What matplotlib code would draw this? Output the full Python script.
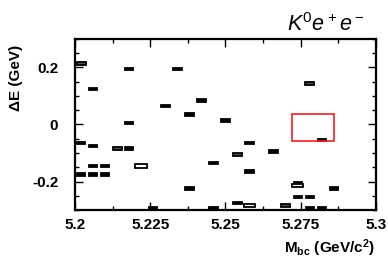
import numpy as np
import matplotlib
matplotlib.use("Agg")
import matplotlib.pyplot as plt
from matplotlib.patches import Rectangle
from matplotlib.ticker import MultipleLocator

plt.rcParams['font.family'] = ['Liberation Sans', 'DejaVu Sans']
plt.rcParams['mathtext.fontset'] = 'custom'
plt.rcParams['mathtext.rm'] = 'Liberation Sans'
plt.rcParams['mathtext.it'] = 'Liberation Sans:italic'
plt.rcParams['mathtext.bf'] = 'Liberation Sans:bold'

# candidate events: Mbc (GeV/c^2), dE (GeV), box style (f=filled, g=grey, h=hollow)
mbc = [5.202, 5.218, 5.234, 5.206, 5.230, 5.218, 5.242, 5.238, 5.250, 5.278,
       5.282, 5.274, 5.274, 5.274, 5.278, 5.286, 5.278, 5.282, 5.270,
       5.202, 5.206, 5.214, 5.218, 5.206, 5.210, 5.222, 5.202, 5.206, 5.210,
       5.226, 5.258, 5.254, 5.266, 5.246, 5.258, 5.238, 5.254, 5.258, 5.246]
de = [0.215, 0.195, 0.195, 0.125, 0.065, 0.005, 0.085, 0.035, 0.015, 0.145,
      -0.055, -0.205, -0.215, -0.255, -0.255, -0.225, -0.295, -0.295, -0.285,
      -0.065, -0.075, -0.085, -0.085, -0.145, -0.145, -0.145, -0.175, -0.175, -0.175,
      -0.295, -0.065, -0.105, -0.095, -0.135, -0.165, -0.225, -0.275, -0.285, -0.295]
kind = ['g', 'f', 'f', 'f', 'f', 'f', 'f', 'f', 'f', 'g',
        'f', 'f', 'h', 'f', 'f', 'f', 'f', 'f', 'g',
        'f', 'f', 'g', 'f', 'f', 'f', 'h', 'f', 'f', 'f',
        'f', 'f', 'g', 'f', 'f', 'f', 'f', 'f', 'h', 'f']

# signal box
sig_mbc = (5.272, 5.286)
sig_de = (-0.058, 0.038)

fig = plt.figure(figsize=(3.88, 2.68), dpi=100)
ax = fig.add_axes([0.1933, 0.2164, 0.7757, 0.6381])

for x, y, k in zip(mbc, de, kind):
    if k == 'h':
        w, h, fc = 0.0038, 0.012, 'white'
    elif k == 'g':
        w, h, fc = 0.0030, 0.010, '#555555'
    else:
        w, h, fc = 0.0028, 0.009, 'black'
    ax.add_patch(Rectangle((x - w / 2, y - h / 2), w, h, facecolor=fc,
                           edgecolor='black', linewidth=1.3, clip_on=True))

ax.add_patch(Rectangle((sig_mbc[0], sig_de[0]), sig_mbc[1] - sig_mbc[0],
                       sig_de[1] - sig_de[0], fill=False, edgecolor='#ff1a1a',
                       linewidth=1.2))

ax.set_xlim(5.2, 5.3)
ax.set_ylim(-0.3, 0.3)
ax.xaxis.set_major_locator(MultipleLocator(0.025))
ax.xaxis.set_minor_locator(MultipleLocator(0.0125))
ax.yaxis.set_major_locator(MultipleLocator(0.2))
ax.yaxis.set_minor_locator(MultipleLocator(0.05))
ax.set_xticks([5.2, 5.225, 5.25, 5.275, 5.3])
ax.set_xticklabels(['5.2', '5.225', '5.25', '5.275', '5.3'])
ax.set_yticks([-0.2, 0, 0.2])
ax.set_yticklabels(['-0.2', '0', '0.2'])

ax.tick_params(which='both', direction='in', top=True, right=True, width=1)
ax.tick_params(which='major', length=6, labelsize=11, pad=6)
ax.tick_params(axis='y', which='major', pad=12)
ax.tick_params(which='minor', length=3)
for lab in ax.get_xticklabels() + ax.get_yticklabels():
    lab.set_fontweight('bold')
for s in ax.spines.values():
    s.set_linewidth(1.6)

fig.text(0.966, 0.075, r'$\mathbf{M_{bc}}$ (GeV/c$^{\mathbf{2}}$)', ha='right',
         va='center', fontsize=11, fontweight='bold')
fig.text(0.042, 0.71, '\u0394E (GeV)', rotation=90, ha='center', va='center',
         fontsize=11, fontweight='bold')
fig.text(0.94, 0.91, r'$K^0e^+e^-$', ha='right', va='center', fontsize=15.5)

fig.savefig('out.png', dpi=100)
